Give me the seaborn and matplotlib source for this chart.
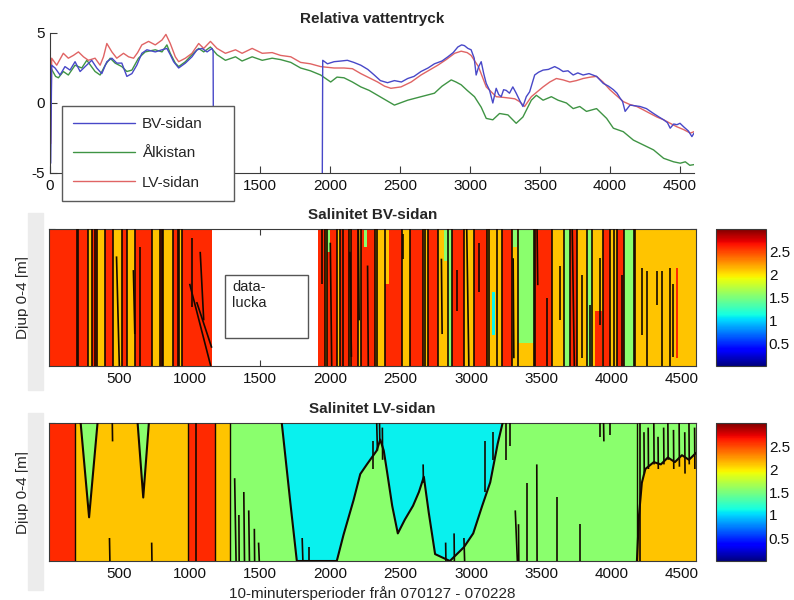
import numpy as np
import pandas as pd
import matplotlib
matplotlib.use("Agg")
import matplotlib.pyplot as plt
import seaborn as sns
from matplotlib.patches import Rectangle
from matplotlib.lines import Line2D
from matplotlib.collections import LineCollection
from matplotlib import cm, colors as mcolors

sns.set_theme(style="white")
plt.rcParams['font.family'] = ['Liberation Sans', 'DejaVu Sans']
plt.rcParams['axes.unicode_minus'] = False

# ---------------- relative water pressure (top panel) ----------------
bv1_t = [5, 12, 36, 72, 107, 143, 179, 215, 251, 298, 334, 370, 406, 442, 477, 513, 549, 585, 620, 656,
         692, 752, 800, 835, 859, 883, 919, 967, 1014, 1050, 1086, 1122, 1158, 1165, 1168]
bv1_v = [-4.3, 2.7, 2.5, 2.0, 2.6, 2.35, 2.95, 2.25, 2.6, 3.05, 2.5, 2.1, 2.95, 3.2, 2.85, 2.85, 1.9, 2.1, 2.7, 3.55,
         3.8, 3.65, 3.8, 3.9, 3.45, 2.95, 2.5, 2.85, 3.3, 3.8, 3.9, 3.65, 3.9, 3.7, -5]
bv2_t = [1945, 1948, 1982, 2029, 2080, 2124, 2170, 2220, 2270, 2316, 2360, 2411, 2460, 2510, 2555, 2600, 2650, 2700, 2746, 2800,
         2842, 2880, 2913, 2940, 2960, 2985, 3008, 3030, 3044, 3062, 3080, 3098, 3116, 3140, 3163, 3187, 3205, 3223, 3240, 3259,
         3282, 3306, 3330, 3354, 3378, 3402, 3426, 3462, 3490, 3522, 3560, 3605, 3635, 3665, 3700, 3737, 3770, 3808, 3850, 3904,
         3952, 3990, 4024, 4050, 4072, 4090, 4108, 4143, 4180, 4215, 4260, 4311, 4350, 4383, 4410, 4430, 4455, 4478, 4500, 4526,
         4560, 4585, 4600]
bv2_v = [-5, 3.05, 2.8, 2.95, 3.0, 3.05, 2.9, 2.7, 2.4, 2.0, 1.6, 1.45, 1.6, 1.5, 1.75, 1.9, 2.25, 2.5, 2.8, 3.0,
         3.3, 3.6, 4.0, 4.15, 4.1, 3.9, 3.8, 3.2, 2.0, 2.6, 2.95, 2.1, 1.4, 0.9, 0.0, 1.05, 0.6, 0.45, 0.95, 0.9,
         0.7, 1.15, 0.7, 0.2, -0.25, 0.45, 0.8, 2.0, 2.2, 2.35, 2.4, 2.6, 2.45, 2.25, 2.3, 2.0, 2.15, 2.0, 2.1, 1.9,
         1.4, 1.2, 0.95, 0.7, 0.35, 0.1, -0.6, -0.15, -0.2, -0.25, -0.4, -0.75, -1.0, -1.2, -1.4, -1.8, -1.5, -1.55, -1.45, -1.7,
         -2.0, -2.4, -2.15]
lv_t = [5, 12, 48, 95, 131, 167, 203, 239, 274, 322, 358, 382, 406, 442, 477, 525, 561, 597, 626, 656,
        704, 752, 800, 828, 859, 895, 919, 967, 1014, 1062, 1098, 1146, 1193, 1253, 1325, 1372, 1444, 1516, 1587, 1647,
        1720, 1790, 1860, 1933, 2029, 2100, 2160, 2220, 2280, 2340, 2390, 2435, 2507, 2580, 2650, 2710, 2770, 2830, 2890, 2937,
        2980, 3008, 3060, 3116, 3187, 3240, 3282, 3320, 3354, 3390, 3438, 3480, 3522, 3570, 3617, 3665, 3713, 3760, 3808, 3860,
        3904, 3950, 3999, 4050, 4095, 4140, 4191, 4240, 4287, 4335, 4383, 4430, 4478, 4526, 4574, 4600]
lv_v = [-2.9, 3.2, 2.7, 3.55, 3.2, 3.4, 3.65, 3.3, 3.05, 3.2, 2.7, 3.3, 4.25, 3.65, 3.2, 3.55, 3.3, 3.2, 3.6, 4.15,
        4.4, 4.15, 4.5, 4.9, 4.25, 3.3, 2.95, 3.2, 3.55, 4.25, 3.9, 4.4, 3.9, 3.55, 3.8, 3.55, 3.9, 3.55, 3.6, 3.4,
        3.3, 2.9, 2.8, 2.6, 2.5, 2.5, 2.45, 2.1, 1.8, 1.5, 1.2, 1.05, 1.15, 1.5, 2.0, 2.35, 2.7, 3.1, 3.55, 3.7,
        3.6, 3.4, 2.6, 1.15, 0.45, 0.4, 0.35, 0.3, 0.1, -0.25, 0.45, 0.8, 1.15, 1.5, 1.75, 1.65, 1.5, 1.6, 1.75, 1.85,
        1.9, 1.5, 0.95, 0.5, 0.1, -0.1, -0.25, -0.5, -0.75, -1.0, -1.2, -1.45, -1.7, -1.9, -2.15, -2.05]
alk_t = [12, 40, 60, 95, 131, 179, 227, 263, 322, 358, 394, 430, 465, 513, 549, 585, 632, 680, 752, 800,
         835, 859, 895, 919, 967, 1014, 1062, 1098, 1146, 1193, 1253, 1325, 1372, 1444, 1516, 1587, 1647, 1720, 1790, 1860,
         1933, 2005, 2050, 2100, 2160, 2220, 2280, 2340, 2400, 2460, 2555, 2650, 2746, 2800, 2866, 2900, 2937, 2980, 3032, 3080,
         3116, 3163, 3211, 3271, 3330, 3378, 3438, 3474, 3522, 3581, 3629, 3689, 3737, 3784, 3832, 3904, 3976, 4024, 4095, 4167,
         4239, 4311, 4383, 4454, 4502, 4538, 4570, 4600]
alk_v = [2.4, 1.9, 1.8, 2.25, 2.0, 2.7, 2.5, 3.05, 2.25, 2.0, 2.7, 3.2, 2.85, 2.6, 2.25, 2.35, 3.2, 3.65, 3.8, 3.65,
         4.15, 3.55, 2.85, 2.6, 2.95, 3.45, 3.9, 3.65, 4.0, 3.45, 3.05, 3.3, 3.0, 3.3, 3.05, 3.2, 3.1, 2.9, 2.5, 2.3,
         2.0, 1.5, 1.85, 1.8, 1.5, 1.15, 0.9, 0.55, 0.2, -0.15, 0.2, 0.45, 0.7, 1.2, 1.65, 1.5, 1.3, 0.9, 0.45, -0.3,
         -1.1, -1.2, -0.75, -0.85, -1.45, -1.0, 0.2, 0.55, 0.2, 0.45, 0.2, 0.0, -0.4, -0.25, -0.6, -0.4, -1.1, -1.8, -2.05, -2.65,
         -3.0, -3.35, -3.95, -4.2, -4.3, -4.2, -4.45, -4.4]
series_names = ['BV-sidan', 'Ålkistan', 'LV-sidan']
series_colors = ['#4848c8', '#3f9444', '#e06464']
top_xticks = [0, 500, 1000, 1500, 2000, 2500, 3000, 3500, 4000, 4500]
# 500 and 1000 sit under the legend box
top_xlabels = ['0', '', '', '1500', '2000', '2500', '3000', '3500', '4000', '4500']
top_yticks = [-5, 0, 5]

# ---------------- salinity, BV side ----------------
# vertical bands: edges (10-minute periods) and salinity of each band (nan = no data)
bv_edges = [0, 197, 209, 280, 303, 339, 398, 458, 517, 552, 612, 730, 790, 813, 884, 920, 944, 1160, 1916, 1960,
            1975, 2050, 2070, 2130, 2150, 2200, 2215, 2319, 2390, 2508, 2568, 2662, 2698, 2769, 2840, 2864, 2947, 3019, 3113, 3219,
            3290, 3338, 3445, 3457, 3575, 3658, 3705, 3753, 3824, 3860, 3942, 3990, 4037, 4085, 4156, 4600]
bv_sal = [2.6, 2.1, 2.6, 2.1, 2.6, 2.1, 2.6, 2.1, 2.6, 2.1,
          2.6, 2.1, 2.6, 2.1, 2.6, 2.1, 2.6, np.nan, 2.6, 2.1,
          2.6, 2.1, 2.6, 2.1, 2.6, 2.1, 2.6, 2.1, 2.6, 2.1,
          2.6, 2.1, 2.6, 2.1, 1.55, 2.6, 2.1, 2.6, 2.1, 2.6,
          2.1, 1.55, 2.1, 2.6, 2.1, 1.55, 2.6, 2.1, 1.55, 2.1,
          2.6, 2.1, 2.6, 1.55, 2.1]
# local patches inside bands: start, end, top level, bottom level, salinity
bv_patch_t0 = [1975, 2240, 2810, 3148, 3880, 2390, 3300, 3338, 4455]
bv_patch_t1 = [2000, 2260, 2850, 3172, 3930, 2420, 3330, 3445, 4475]
bv_patch_d0 = [0.0, 0.0, 0.0, 1.37, 1.8, 0.0, 0.0, 2.5, 0.85]
bv_patch_d1 = [0.5, 0.4, 0.7, 2.32, 3.0, 1.2, 0.4, 3.0, 2.83]
bv_patch_s = [1.55, 1.55, 1.55, 1.1, 2.6, 2.1, 1.55, 2.1, 2.6]
# dense isoline streaks: period at top / bottom of streak and its level span
bv_str_t0 = [327, 480, 600, 650, 800, 925, 1000, 1050, 1015, 1075, 1940, 2000, 2090, 2140, 2200, 2265, 2335, 2520, 2670, 2790,
             2900, 2970, 3060, 3125, 3185, 3300, 3470, 3540, 3633, 3720, 3790, 3848, 3920, 4015, 4075, 4168, 4215, 4250, 4320, 4357,
             4415, 4440]
bv_str_t1 = [327, 500, 610, 650, 800, 925, 1150, 1157, 1015, 1100, 1940, 2010, 2090, 2150, 2205, 2270, 2335, 2520, 2670, 2795,
             2900, 2985, 3060, 3125, 3185, 3305, 3475, 3540, 3633, 3735, 3790, 3848, 3920, 4015, 4075, 4168, 4215, 4250, 4320, 4357,
             4415, 4440]
bv_str_d0 = [0, 0.6, 0.9, 0.4, 0, 0, 1.2, 1.6, 0.2, 0.5, 0, 0.3, 0, 0.5, 0, 0.8, 0, 0.1, 0, 0.65,
             0.9, 0, 0.3, 0, 0, 0.64, 0, 1.5, 0.8, 0, 1.0, 1.66, 0.64, 0, 1.0, 0, 0.86, 0.93, 0.93, 0.93,
             0.86, 1.2]
bv_str_d1 = [3, 3, 2.3, 3, 3, 3, 3, 2.6, 1.7, 2.0, 1.2, 3, 3, 2.8, 2.0, 3, 3, 0.65, 3, 2.3,
             1.8, 3, 1.37, 3, 3, 2.83, 1.23, 3, 2.0, 3, 2.83, 3, 2.1, 3, 3, 3, 2.32, 3, 1.66, 3,
             3, 2.8]
gap_box = (1252, 1.0, 588, 1.38)   # start, top level, length, level span
gap_text = 'data-\nlucka'

# ---------------- salinity, LV side ----------------
lv_edges = [0, 186, 985, 1182, 1290, 4180, 4600]
lv_bottom_sal = [2.6, 2.1, 2.6, 2.1, 1.55, 2.1]
# upper water masses: boundary profile (period, level of lower edge) and salinity
lv_up_t = [[225, 285, 345],
           [630, 670, 710],
           [1655, 1714, 1762, 2046, 2094, 2165, 2213, 2260, 2330, 2355, 2380, 2403, 2440, 2480, 2530, 2588, 2630, 2665,
            2700, 2745, 2850, 2950, 3016, 3080, 3137, 3190, 3225],
           [4180, 4195, 4215, 4240, 4300, 4350, 4400, 4450, 4500, 4550, 4600]]
lv_up_d = [[0, 2.05, 0],
           [0, 1.62, 0],
           [0, 1.68, 3.0, 3.0, 2.43, 1.68, 1.11, 0.9, 0.6, 0.36, 0.6, 1.05, 1.8, 2.4, 2.1, 1.8, 1.5, 1.17,
            1.95, 2.85, 3.0, 2.7, 2.4, 1.8, 1.29, 0.45, 0],
           [3.0, 2.0, 1.3, 1.0, 0.85, 0.9, 0.75, 0.85, 0.7, 0.8, 0.65]]
lv_up_sal = [1.55, 1.55, 1.08, 1.55]
lv_str_t0 = [1320, 1350, 1385, 1420, 1460, 1490, 430, 730, 450, 1045, 2330, 2350, 2370, 2300, 2660, 1800, 1850, 2820, 2880, 2950,
             3100, 3160, 3315, 3338, 3397, 3468, 3611, 3777, 3943, 3920, 3250, 3280, 3990, 4205, 4230, 4260, 4300, 4330, 4370, 4400,
             4440, 4480, 4520, 4550, 4590]
lv_str_t1 = [1330, 1352, 1390, 1425, 1462, 1495, 433, 732, 452, 1045, 2335, 2352, 2372, 2300, 2662, 1805, 1850, 2822, 2882, 2955,
             3100, 3160, 3330, 3340, 3397, 3470, 3611, 3777, 3945, 3920, 3250, 3280, 3990, 4205, 4232, 4262, 4302, 4332, 4372, 4402,
             4442, 4482, 4522, 4552, 4592]
lv_str_d0 = [1.2, 2.0, 1.5, 1.9, 2.3, 2.6, 2.5, 2.6, 0, 0, 0, 0, 0.1, 0.4, 0.9, 2.5, 2.7, 2.6, 2.4, 2.5,
             0.4, 0.2, 1.9, 2.2, 1.3, 0.9, 1.6, 2.2, 0, 0, 0, 0, 0, 0, 0.2, 0.1, 0, 0.3, 0.1, 0,
             0.15, 0, 0.2, 0, 0.1]
lv_str_d1 = [3, 3, 3, 3, 3, 3, 3, 3, 0.4, 3, 0.6, 0.4, 0.8, 1.0, 1.3, 3, 3, 3, 3, 3,
             1.5, 0.8, 3, 3, 3, 3, 3, 3, 0.4, 0.3, 0.8, 0.5, 0.25, 3, 1.1, 1.0, 0.9, 1.0, 0.9, 0.8,
             1.0, 0.95, 1.1, 0.9, 1.0]

low_xticks = [500, 1000, 1500, 2000, 2500, 3000, 3500, 4000, 4500]
level_ticks = [0, 1, 2]
cbar_ticks = [0.5, 1, 1.5, 2, 2.5]
cbar_labels = ['0.5', '1', '1.5', '2', '2.5']
sal_range = (0, 3)

# ---------------- figure layout ----------------
W, H = 794, 600
fig = plt.figure(figsize=(W / 100, H / 100), dpi=100)


def box(l, t, r, b):
    return [l / W, 1 - b / H, (r - l) / W, (b - t) / H]


ax1 = fig.add_axes(box(50, 33, 694, 173))
ax2 = fig.add_axes(box(49, 229, 696, 366))
ax3 = fig.add_axes(box(49, 423, 696, 561))
cax2 = fig.add_axes(box(716, 229, 766, 366))
cax3 = fig.add_axes(box(716, 423, 766, 561))

# light strips behind the depth labels
for top, bot in [(213, 390), (413, 590)]:
    fig.patches.append(Rectangle((28 / W, 1 - bot / H), 15 / W, (bot - top) / H,
                                 transform=fig.transFigure, color='#ececec', zorder=0))

edge_col = '#3a3a3a'
FS = 11

# ---------------- top panel ----------------
frames = [
    pd.DataFrame({'t': alk_t, 'v': alk_v, 'serie': 'Ålkistan', 'seg': 'alk'}),
    pd.DataFrame({'t': lv_t, 'v': lv_v, 'serie': 'LV-sidan', 'seg': 'lv'}),
    pd.DataFrame({'t': bv1_t, 'v': bv1_v, 'serie': 'BV-sidan', 'seg': 'bv1'}),
    pd.DataFrame({'t': bv2_t, 'v': bv2_v, 'serie': 'BV-sidan', 'seg': 'bv2'}),
]
press = pd.concat(frames, ignore_index=True)
palette = dict(zip(series_names, series_colors))
sns.lineplot(data=press, x='t', y='v', hue='serie', units='seg', estimator=None, sort=False,
             hue_order=['Ålkistan', 'LV-sidan', 'BV-sidan'], palette=palette,
             linewidth=1.0, ax=ax1, legend=False)
ax1.set_xlim(0, 4600)
ax1.set_ylim(-5, 5)
ax1.set_xticks(top_xticks)
ax1.set_xticklabels(top_xlabels)
ax1.set_yticks(top_yticks)
ax1.set_xlabel('')
ax1.set_ylabel('')
ax1.set_title('Relativa vattentryck', fontsize=FS, fontweight='bold', pad=7)
for s in ['top', 'right']:
    ax1.spines[s].set_visible(False)
for s in ['left', 'bottom']:
    ax1.spines[s].set_color(edge_col)
    ax1.spines[s].set_linewidth(0.8)
ax1.tick_params(direction='in', length=5, width=0.8, color=edge_col, labelsize=FS, pad=4,
                bottom=True, left=True, labelcolor='#111111')
handles = [Line2D([], [], color=c, lw=1.0) for c in series_colors]
leg = ax1.legend(handles, series_names, loc='upper left', mode='expand',
                 bbox_to_anchor=(62 / W, 1 - 197 / H, 172 / W, 91 / H), bbox_transform=fig.transFigure,
                 borderaxespad=0, fontsize=FS, handlelength=4.05, handletextpad=0.45,
                 labelspacing=1.0, borderpad=0.72, fancybox=False, framealpha=1, edgecolor='#5a5a5a')
leg.get_frame().set_linewidth(1.0)

cmap = plt.get_cmap('jet')
norm = mcolors.Normalize(*sal_range)


def style_salinity_axes(ax, title):
    ax.set_xlim(0, 4600)
    ax.set_ylim(3, 0)
    ax.set_xticks(low_xticks)
    ax.set_yticks(level_ticks)
    ax.set_yticklabels([])
    ax.tick_params(direction='in', length=4, width=0.8, color=edge_col, labelsize=FS, pad=4,
                   top=True, right=True, bottom=True, left=True, labelcolor='#111111')
    for s in ax.spines.values():
        s.set_color(edge_col)
        s.set_linewidth(0.8)
    ax.set_title(title, fontsize=FS, fontweight='bold', pad=7)
    ax.set_ylabel('Djup 0-4 [m]', fontsize=FS)
    ax.yaxis.set_label_coords(-0.03, 0.5)
    ax.grid(False)


def streaks(ax, t0, t1, d0, d1, lw):
    segs = [[(a, c), (b, d)] for a, b, c, d in zip(t0, t1, d0, d1)]
    ax.add_collection(LineCollection(segs, colors='#140800', linewidths=lw, zorder=4))


# ---------------- BV salinity ----------------
bv_c = np.ma.masked_invalid(np.array(bv_sal, dtype=float)[None, :])
ax2.pcolormesh(bv_edges, [0, 3], bv_c, cmap=cmap, norm=norm, shading='flat', zorder=1)
ax2.bar(bv_patch_t0, np.subtract(bv_patch_d1, bv_patch_d0), width=np.subtract(bv_patch_t1, bv_patch_t0),
        bottom=bv_patch_d0, align='edge', color=cmap(norm(np.array(bv_patch_s))), linewidth=0, zorder=2)
sal = np.array(bv_sal, dtype=float)
inner = np.array(bv_edges[1:-1])
change = np.isfinite(sal[:-1]) & np.isfinite(sal[1:]) & (sal[:-1] != sal[1:])
ax2.vlines(inner[change], 0, 3, colors='#140800', linewidth=1.2, zorder=3)
streaks(ax2, bv_str_t0, bv_str_t1, bv_str_d0, bv_str_d1, 1.2)
ax2.add_patch(Rectangle((gap_box[0], gap_box[1]), gap_box[2], gap_box[3], fill=False,
                        edgecolor='#555555', linewidth=1.0, zorder=5))
ax2.text(gap_box[0] + 50, gap_box[1] + 0.12, gap_text, fontsize=10.5, va='top', ha='left',
         linespacing=1.2, color='#222222', zorder=5)
style_salinity_axes(ax2, 'Salinitet BV-sidan')

# ---------------- LV salinity ----------------
ax3.pcolormesh(lv_edges, [0, 3], np.array(lv_bottom_sal)[None, :], cmap=cmap, norm=norm,
               shading='flat', zorder=1)
for t, d, s in zip(lv_up_t, lv_up_d, lv_up_sal):
    ax3.fill_between(t, 0, d, color=cmap(norm(s)), linewidth=0, zorder=2)
    ax3.plot(t, d, color='#140800', linewidth=1.5, zorder=3)
lsal = np.array(lv_bottom_sal)
linner = np.array(lv_edges[1:-1])
ax3.vlines(linner[lsal[:-1] != lsal[1:]], 0, 3, colors='#140800', linewidth=1.0, zorder=3)
streaks(ax3, lv_str_t0, lv_str_t1, lv_str_d0, lv_str_d1, 1.2)
style_salinity_axes(ax3, 'Salinitet LV-sidan')
ax3.set_xlabel('10-minutersperioder från 070127 - 070228', fontsize=FS, labelpad=4)

# ---------------- colour bars ----------------
for cax in (cax2, cax3):
    sm = cm.ScalarMappable(norm=norm, cmap=cmap)
    cb = fig.colorbar(sm, cax=cax, ticks=cbar_ticks)
    cb.set_ticklabels(cbar_labels)
    cb.outline.set_edgecolor(edge_col)
    cb.outline.set_linewidth(0.8)
    cax.tick_params(length=0, labelsize=FS, pad=2, labelcolor='#111111')

fig.savefig('out.png', dpi=100)
